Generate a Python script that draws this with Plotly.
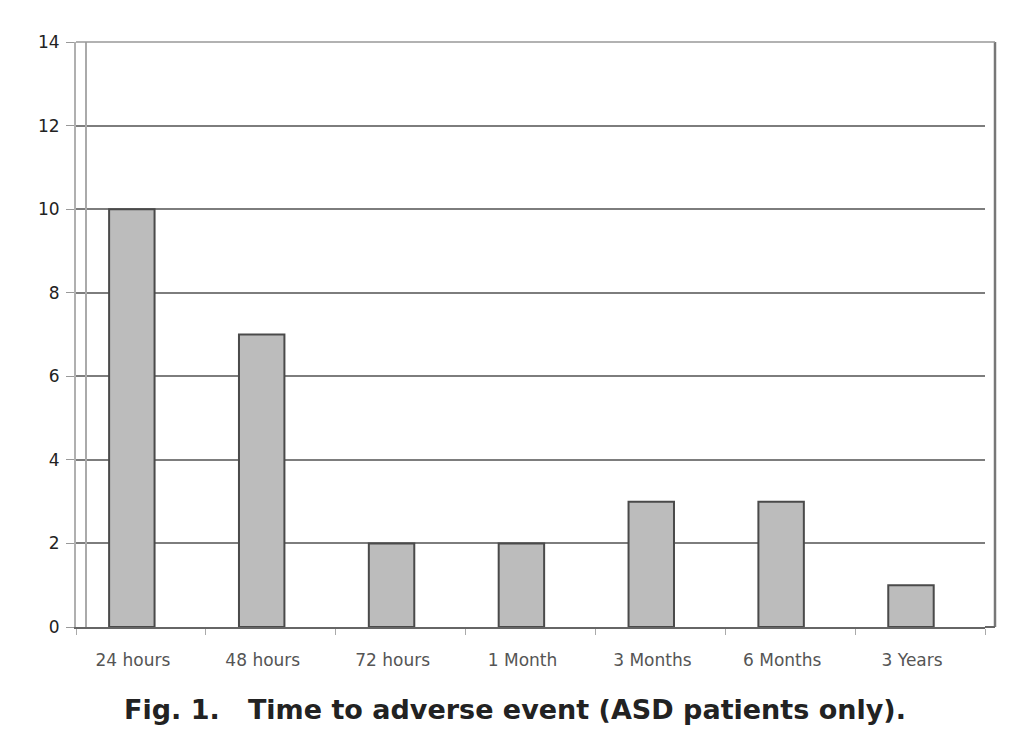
import plotly.graph_objects as go

categories = ["24 hours", "48 hours", "72 hours", "1 Month", "3 Months", "6 Months", "3 Years"]
counts = [10, 7, 2, 2, 3, 3, 1]
y_ticks = [0, 2, 4, 6, 8, 10, 12, 14]

L, R = 76, 39
PW = 1024 - L - R

fig = go.Figure()
fig.add_trace(go.Bar(
    x=categories, y=counts,
    width=0.35,
    offset=-0.245,
    marker=dict(color="#bcbcbc", line=dict(color="#4a4a4a", width=2)),
))

fig.update_layout(
    width=1024, height=747,
    margin=dict(l=L, r=R, t=42, b=120),
    paper_bgcolor="white", plot_bgcolor="white",
    showlegend=False,
    font=dict(family="DejaVu Sans, sans-serif", color="#333"),
    xaxis=dict(
        type="category",
        showgrid=False,
        showline=True, linecolor="#666", linewidth=2,
        ticks="outside", ticklen=6, tickcolor="#aaa",
        tickson="boundaries",
        tickfont=dict(size=17, color="#555"),
        ticklabelstandoff=17,
        ticklabelshift=-8,
    ),
    yaxis=dict(
        range=[0, 14],
        tickvals=y_ticks,
        showgrid=True, gridcolor="#7d7d7d", gridwidth=1.5,
        showline=True, linecolor="#b0b0b0", linewidth=2,
        ticks="outside", ticklen=8, tickcolor="#999",
        tickfont=dict(size=17, color="#222"),
        ticklabelstandoff=3,
        zeroline=False,
    ),
)

# inner left border line
fig.add_shape(type="line", xref="paper", yref="paper", x0=10 / PW, x1=10 / PW, y0=0, y1=1,
              line=dict(color="#aaa", width=2))
# outer right frame line
fig.add_shape(type="line", xref="paper", yref="paper", x0=(PW + 10) / PW, x1=(PW + 10) / PW,
              y0=0, y1=1, line=dict(color="#777", width=2.5))
# top border
fig.add_shape(type="line", xref="paper", yref="paper", x0=0, x1=(PW + 10) / PW, y0=1, y1=1,
              line=dict(color="#999", width=1.5))
# bottom axis extension to frame
fig.add_shape(type="line", xref="paper", yref="paper", x0=1, x1=(PW + 10) / PW, y0=0, y1=0,
              line=dict(color="#666", width=2))

fig.add_annotation(
    text="<b>Fig. 1.   Time to adverse event (ASD patients only).</b>",
    xref="paper", yref="paper", x=(515 - L) / PW, y=0, yshift=-82, showarrow=False,
    xanchor="center", yanchor="middle",
    font=dict(size=27, color="#222", family="DejaVu Sans, sans-serif"),
)

fig.write_html("out.html")
